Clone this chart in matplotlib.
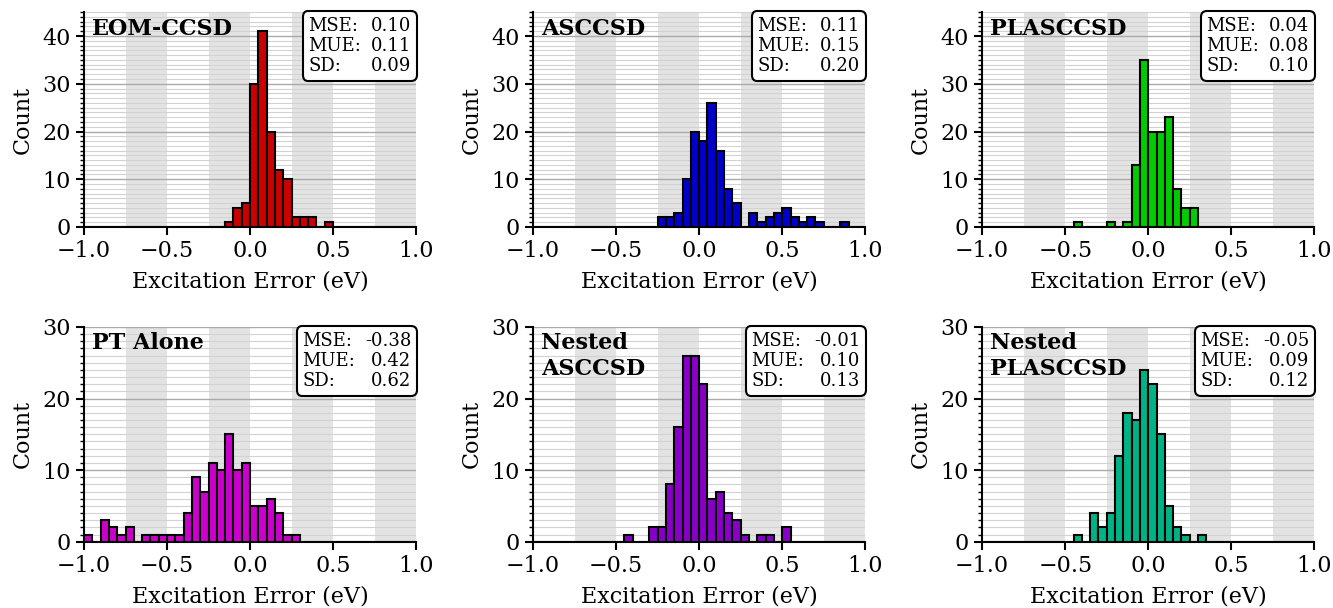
import numpy as np
import matplotlib
matplotlib.use("Agg")
from matplotlib import pyplot as plt
from matplotlib.ticker import MultipleLocator
from matplotlib.offsetbox import TextArea, HPacker, AnchoredOffsetbox

plt.rcParams['font.family'] = ['DejaVu Serif']

# bins: 0.05 eV wide, from -1 to 1
edges = np.round(np.arange(-1.0, 1.0001, 0.05), 2)

# counts per bin, keyed by the left edge of the bin
eom_ccsd = {-0.15: 1, -0.10: 4, -0.05: 5, 0.00: 30, 0.05: 41, 0.10: 20, 0.15: 12,
            0.20: 10, 0.25: 2, 0.30: 2, 0.35: 2, 0.45: 1}
asccsd = {-0.25: 2, -0.20: 2, -0.15: 3, -0.10: 10, -0.05: 20, 0.00: 18, 0.05: 26,
          0.10: 16, 0.15: 8, 0.20: 5, 0.30: 3, 0.35: 1, 0.40: 2, 0.45: 3, 0.50: 4,
          0.55: 2, 0.60: 1, 0.65: 2, 0.70: 1, 0.85: 1}
plasccsd = {-0.45: 1, -0.25: 1, -0.15: 1, -0.10: 13, -0.05: 35, 0.00: 20, 0.05: 20,
            0.10: 23, 0.15: 8, 0.20: 4, 0.25: 4}
pt_alone = {-1.00: 1, -0.90: 3, -0.85: 2, -0.80: 1, -0.75: 2, -0.65: 1, -0.60: 1,
            -0.55: 1, -0.50: 1, -0.45: 1, -0.40: 4, -0.35: 9, -0.30: 7, -0.25: 11,
            -0.20: 10, -0.15: 15, -0.10: 10, -0.05: 11, 0.00: 5, 0.05: 5, 0.10: 6,
            0.15: 4, 0.20: 1, 0.25: 1}
nested_asccsd = {-0.45: 1, -0.30: 2, -0.25: 2, -0.20: 8, -0.15: 16, -0.10: 26,
                 -0.05: 26, 0.00: 22, 0.05: 6, 0.10: 7, 0.15: 4, 0.20: 3, 0.25: 1,
                 0.35: 1, 0.40: 1, 0.50: 2}
nested_plasccsd = {-0.45: 1, -0.35: 4, -0.30: 2, -0.25: 4, -0.20: 12, -0.15: 18,
                   -0.10: 17, -0.05: 24, 0.00: 22, 0.05: 15, 0.10: 5, 0.15: 2,
                   0.20: 1, 0.30: 1}

names = ["EOM-CCSD", "ASCCSD", "PLASCCSD", "PT Alone", "Nested\nASCCSD", "Nested\nPLASCCSD"]
data = [eom_ccsd, asccsd, plasccsd, pt_alone, nested_asccsd, nested_plasccsd]
colors = ["#cc0000", "#0000cc", "#00cc00", "#cc00cc", "#8800c8", "#00b386"]
mse = ["0.10", "0.11", "0.04", "-0.38", "-0.01", "-0.05"]
mue = ["0.11", "0.15", "0.08", "0.42", "0.10", "0.09"]
sd = ["0.09", "0.20", "0.10", "0.62", "0.13", "0.12"]
ymax = [45, 45, 45, 30, 30, 30]

fig, axes = plt.subplots(2, 3, figsize=(13.33, 6.08), dpi=100)
plt.subplots_adjust(left=0.063, right=0.986, top=0.980, bottom=0.109,
                    wspace=0.352, hspace=0.465)

for i, ax in enumerate(axes.flat):
    counts = np.array([data[i].get(round(e, 2), 0) for e in edges[:-1]])

    # shaded bands
    for x0 in [-0.75, -0.25, 0.25, 0.75]:
        ax.axvspan(x0, x0 + 0.25, color="#e3e3e3", zorder=0, lw=0)

    ax.bar(edges[:-1], counts, width=0.05, align="edge", color=colors[i],
           edgecolor="black", linewidth=1.5, zorder=3)

    ax.set_xlim(-1, 1)
    ax.set_ylim(0, ymax[i])
    ax.xaxis.set_major_locator(MultipleLocator(0.5))
    ax.yaxis.set_major_locator(MultipleLocator(10))
    ax.yaxis.set_minor_locator(MultipleLocator(1))
    ax.grid(which="major", axis="y", color="#aaaaaa", lw=1.0, zorder=1)
    ax.grid(which="minor", axis="y", color="#d2d2d2", lw=0.8, zorder=1)
    ax.set_axisbelow(True)

    for s in ["top", "right"]:
        ax.spines[s].set_visible(False)
    ax.spines["left"].set_linewidth(1.5)
    ax.spines["bottom"].set_linewidth(1.5)
    ax.tick_params(which="major", length=6, width=1.5, labelsize=16)
    ax.tick_params(which="minor", length=3, width=1.0)

    ax.set_xlabel("Excitation Error (eV)", fontsize=16, labelpad=6)
    ax.set_ylabel("Count", fontsize=16, labelpad=6)

    ax.text(0.025, 0.975, names[i], transform=ax.transAxes, ha="left", va="top",
            fontsize=16, fontweight="bold", linespacing=1.2, zorder=5)

    # stats box: labels left, values right-aligned
    props = dict(fontsize=13, linespacing=1.15)
    left = TextArea("MSE:\nMUE:\nSD:", textprops=props)
    right = TextArea(mse[i] + "\n" + mue[i] + "\n" + sd[i],
                     textprops=dict(multialignment="right", **props))
    pack = HPacker(children=[left, right], align="top", pad=0, sep=7)
    box = AnchoredOffsetbox(loc="upper right", child=pack, pad=0.2, borderpad=0.15,
                            frameon=True, bbox_to_anchor=(1.0, 1.0),
                            bbox_transform=ax.transAxes)
    box.patch.set_boxstyle("round,pad=0.2,rounding_size=0.4")
    box.patch.set_edgecolor("black")
    box.patch.set_linewidth(1.5)
    box.zorder = 5
    ax.add_artist(box)

plt.savefig("out.png")
